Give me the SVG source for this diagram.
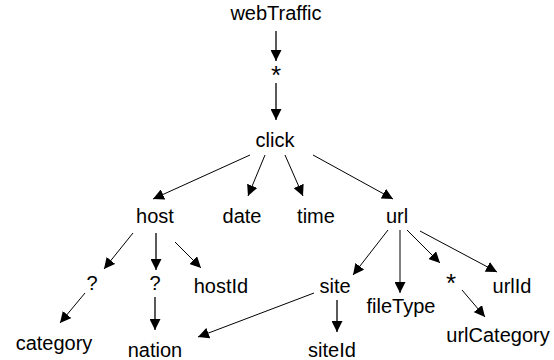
<svg xmlns="http://www.w3.org/2000/svg" width="554" height="360" viewBox="0 0 554 360">
<defs>
<style>
text{font-family:"Liberation Sans",Arial,sans-serif;font-size:20px;fill:#000;text-anchor:middle}
text.s{font-size:26px}
.c line{stroke:#000;stroke-width:1;marker-end:url(#ah)}
.c line.v{stroke-width:1.3}
</style>
<marker id="ah" viewBox="0 0 11 11" refX="11" refY="5.5" markerWidth="11" markerHeight="11" markerUnits="userSpaceOnUse" orient="auto"><path d="M0,0 L11,5.5 L0,11 z" fill="#000"/></marker>
</defs>
<rect width="554" height="360" fill="#fff"/>
<g id="connectors" class="c">
<line class="v" x1="276" y1="31" x2="276" y2="61"/>
<line class="v" x1="276" y1="83" x2="276" y2="120"/>
<line x1="250" y1="155" x2="153" y2="199"/>
<line x1="265" y1="155" x2="248" y2="196"/>
<line x1="285" y1="155" x2="303" y2="196"/>
<line x1="313" y1="155" x2="393" y2="199"/>
<line x1="133" y1="233" x2="104" y2="269"/>
<line class="v" x1="156" y1="233" x2="156" y2="270"/>
<line x1="175" y1="242" x2="201" y2="268"/>
<line x1="85" y1="293" x2="60" y2="323"/>
<line class="v" x1="155" y1="297" x2="155" y2="330"/>
<line x1="314" y1="293" x2="198" y2="337"/>
<line x1="388" y1="230" x2="353" y2="275"/>
<line x1="400" y1="230" x2="400" y2="293"/>
<line x1="407" y1="230" x2="440" y2="263"/>
<line x1="420" y1="231" x2="497" y2="272"/>
<line x1="462" y1="290" x2="485" y2="317"/>
<line class="v" x1="337" y1="300" x2="337" y2="332"/>
</g>
<g id="webTraffic"><text x="276" y="20">webTraffic</text></g>
<g id="star1"><text class="s" x="276" y="84">*</text></g>
<g id="click"><text x="275" y="147">click</text></g>
<g id="host"><text x="155" y="223">host</text></g>
<g id="date"><text x="242" y="223">date</text></g>
<g id="time"><text x="316" y="223">time</text></g>
<g id="url"><text x="397" y="223">url</text></g>
<g id="opt1"><text x="92" y="290">?</text></g>
<g id="opt2"><text x="155" y="290">?</text></g>
<g id="hostId"><text x="221" y="293">hostId</text></g>
<g id="site"><text x="335" y="293">site</text></g>
<g id="star2"><text class="s" x="451" y="292">*</text></g>
<g id="urlId"><text x="512" y="293">urlId</text></g>
<g id="fileType"><text x="401" y="313">fileType</text></g>
<g id="urlCategory"><text x="498" y="342">urlCategory</text></g>
<g id="category"><text x="54" y="350">category</text></g>
<g id="nation"><text x="155" y="357">nation</text></g>
<g id="siteId"><text x="332" y="357">siteId</text></g>
</svg>
